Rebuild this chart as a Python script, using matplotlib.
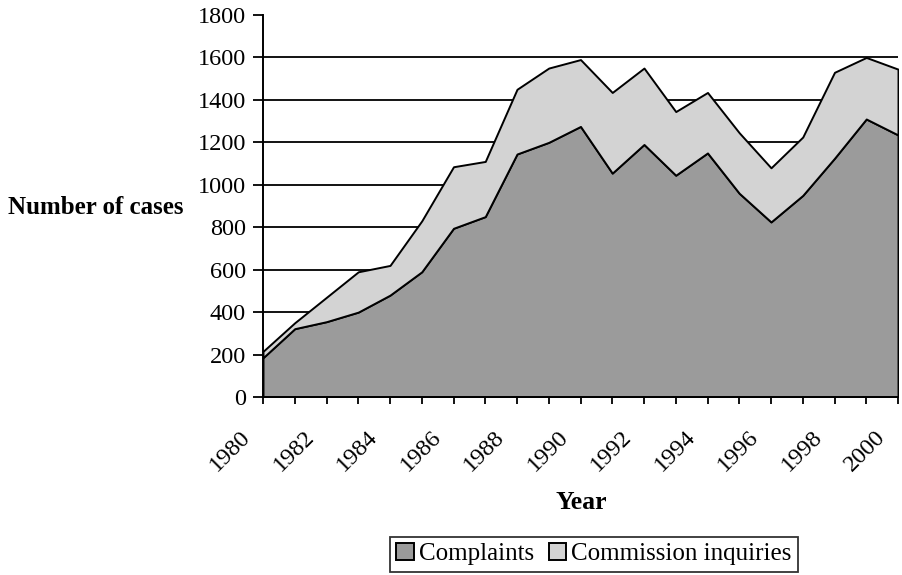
import matplotlib
matplotlib.use("Agg")
import matplotlib.pyplot as plt
from matplotlib.transforms import ScaledTranslation

years = list(range(1980, 2001))
complaints = [185, 322, 355, 400, 480, 590, 795, 850, 1145, 1200, 1275,
              1055, 1190, 1045, 1150, 960, 825, 950, 1125, 1310, 1235]
inquiries = [30, 28, 115, 190, 140, 240, 290, 260, 305, 350, 315,
             380, 360, 300, 285, 285, 255, 275, 405, 290, 310]
labels = ["Complaints", "Commission inquiries"]
colors = ["#9b9b9b", "#d3d3d3"]

plt.rcParams["font.family"] = ["Liberation Serif", "DejaVu Serif"]

fig = plt.figure(figsize=(9.02, 5.75), dpi=100)
ax = fig.add_axes([263 / 902, 1 - 397 / 575, 635 / 902, 382 / 575])

ax.stackplot(years, complaints, inquiries, labels=labels, colors=colors,
             edgecolor="black", linewidth=1.4, zorder=2)

ax.set_xlim(1980, 2000)
ax.set_ylim(0, 1800)
ax.set_yticks(range(0, 1801, 200))
ax.set_xticks(years)
ax.set_xticklabels([str(y) if y % 2 == 0 else "" for y in years],
                   rotation=45, ha="right", va="center",
                   rotation_mode="anchor")
ax.tick_params(axis="both", labelsize=17.5, direction="out",
               width=1.3, colors="black")
ax.tick_params(axis="y", length=7.2, pad=5)
ax.tick_params(axis="x", length=5, pad=21.5)

# shift rotated year labels to sit left of their ticks
shift = ScaledTranslation(-0.155, 0, fig.dpi_scale_trans)
for lab in ax.get_xticklabels():
    lab.set_transform(lab.get_transform() + shift)

for v in range(200, 1800, 200):
    ax.axhline(v, color="black", linewidth=1.3, zorder=1)

for s in ["top", "right"]:
    ax.spines[s].set_visible(False)
for s in ["left", "bottom"]:
    ax.spines[s].set_linewidth(1.4)
    ax.spines[s].set_zorder(3)

ax.set_ylabel("Number of cases", fontsize=18, fontweight="bold",
              rotation=0, ha="center", va="center")
ax.yaxis.set_label_coords(-0.263, 0.497)
ax.set_xlabel("Year", fontsize=18.5, fontweight="bold", va="center")
ax.xaxis.set_label_coords(0.501, -0.277)

leg = fig.legend(loc="center", bbox_to_anchor=(594 / 902, 1 - 554 / 575),
                 ncol=2, fontsize=18, frameon=True, fancybox=False,
                 handlelength=0.7, handleheight=0.7, handletextpad=0.2,
                 columnspacing=0.6, borderpad=0.25, borderaxespad=0)
leg.get_frame().set_edgecolor("black")
leg.get_frame().set_linewidth(1.3)

fig.savefig("out.png", dpi=100)
